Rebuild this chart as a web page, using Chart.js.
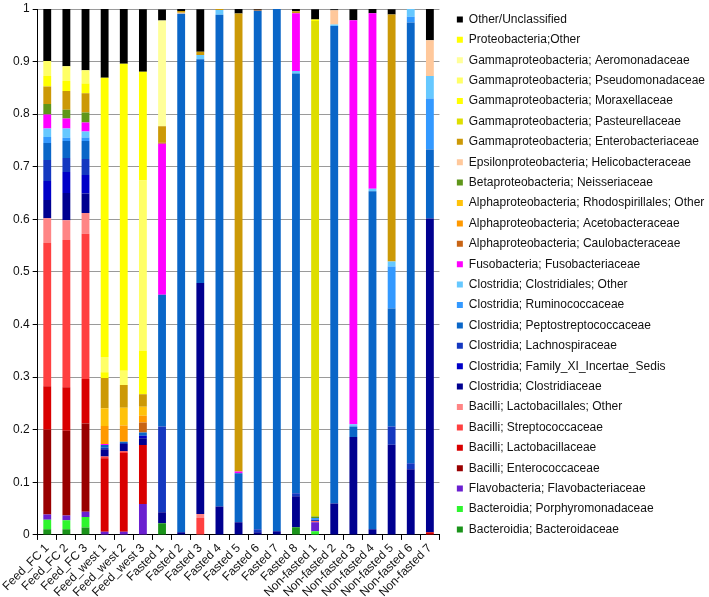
<!DOCTYPE html>
<html>
<head>
<meta charset="utf-8">
<script src="https://cdn.jsdelivr.net/npm/chart.js@4.4.0/dist/chart.umd.min.js"></script>
<style>
  html, body { margin: 0; padding: 0; background: #fff; }
  #wrap { width: 709px; height: 597px; position: relative; }
</style>
</head>
<body>
<div id="wrap"><canvas id="taxaChart"></canvas></div>
<script>
// samples (x axis)
const categories = [
  'Feed_FC 1', 'Feed_FC 2', 'Feed_FC 3', 'Feed_west 1', 'Feed_west 2', 'Feed_west 3',
  'Fasted 1', 'Fasted 2', 'Fasted 3', 'Fasted 4', 'Fasted 5', 'Fasted 6', 'Fasted 7', 'Fasted 8',
  'Non-fasted 1', 'Non-fasted 2', 'Non-fasted 3', 'Non-fasted 4', 'Non-fasted 5', 'Non-fasted 6', 'Non-fasted 7'
];
const yTickLabels = ['0', '0.1', '0.2', '0.3', '0.4', '0.5', '0.6', '0.7', '0.8', '0.9', '1'];

// relative abundance per sample, bottom of the stack first
//                        FC1     FC2     FC3     W1      W2      W3      F1      F2     F3      F4     F5      F6      F7     F8      NF1    NF2     NF3    NF4     NF5     NF6     NF7
const bacteroidaceae     = [0.011, 0.011, 0.014, 0, 0, 0, 0.022, 0, 0, 0, 0, 0, 0, 0.0146, 0, 0, 0, 0, 0, 0, 0];
const porphyromonadaceae = [0.018, 0.017, 0.020, 0, 0, 0, 0, 0, 0, 0, 0, 0, 0, 0, 0.007, 0, 0, 0, 0, 0, 0];
const flavobacteriaceae  = [0.010, 0.009, 0.010, 0.006, 0.006, 0.059, 0, 0, 0, 0, 0, 0, 0, 0, 0.017, 0, 0, 0, 0, 0, 0];
const enterococcaceae    = [0.161, 0.161, 0.168, 0, 0, 0, 0, 0, 0, 0, 0, 0, 0, 0, 0, 0, 0, 0, 0, 0, 0];
const lactobacillaceae   = [0.0825, 0.0826, 0.0845, 0.140, 0.150, 0.112, 0, 0, 0, 0, 0, 0, 0, 0, 0, 0, 0, 0, 0, 0, 0.005];
const streptococcaceae   = [0.2725, 0.280, 0.276, 0.003, 0.003, 0, 0, 0, 0.032, 0, 0, 0, 0, 0, 0.002, 0, 0, 0, 0, 0, 0];
const lactobacillalesOther = [0.047, 0.0375, 0.0394, 0, 0, 0, 0, 0, 0.008, 0, 0, 0, 0, 0, 0, 0, 0, 0, 0, 0, 0];
const clostridiaceae     = [0.035, 0.052, 0.0375, 0.014, 0.014, 0.0127, 0.021, 0.005, 0.439, 0.054, 0.024, 0.005, 0.007, 0.059, 0, 0.0597, 0.186, 0.011, 0.1714, 0.125, 0.5966];
const familyXI           = [0.036, 0.040, 0.035, 0, 0, 0.005, 0, 0, 0, 0, 0, 0, 0, 0, 0, 0, 0, 0, 0, 0, 0];
const lachnospiraceae    = [0.040, 0.0267, 0.0305, 0.003, 0.002, 0, 0.163, 0, 0, 0, 0, 0.006, 0, 0.0057, 0.003, 0, 0, 0, 0.035, 0.0115, 0];
const peptostreptococcaceae = [0.032, 0.032, 0.0343, 0.005, 0.002, 0.006, 0.2506, 0.986, 0.4255, 0.935, 0.0935, 0.9856, 0.993, 0.798, 0, 0.908, 0.020, 0.6427, 0.224, 0.838, 0.1314];
const ruminococcaceae    = [0.0115, 0.0064, 0.0064, 0, 0, 0, 0, 0, 0, 0, 0, 0, 0, 0, 0.003, 0, 0, 0, 0.080, 0.0107, 0.097];
const clostridialesOther = [0.0165, 0.0176, 0.0113, 0, 0, 0, 0, 0, 0.008, 0.009, 0, 0, 0, 0.005, 0, 0.003, 0.0045, 0.0045, 0.0096, 0.015, 0.0426];
const fusobacteriaceae   = [0.0266, 0.019, 0.0172, 0.002, 0, 0, 0.287, 0, 0, 0, 0.003, 0, 0, 0.1095, 0, 0, 0.768, 0.3335, 0, 0, 0];
const caulobacteraceae   = [0, 0, 0, 0, 0, 0.019, 0.002, 0, 0, 0, 0, 0.002, 0, 0, 0, 0, 0, 0, 0, 0, 0];
const acetobacteraceae   = [0, 0, 0, 0.034, 0.031, 0.013, 0, 0, 0, 0, 0, 0, 0, 0, 0, 0, 0, 0, 0, 0, 0];
const rhodospirillalesOther = [0, 0, 0, 0.034, 0.034, 0.017, 0, 0, 0, 0, 0, 0, 0, 0, 0, 0, 0, 0, 0, 0, 0];
const neisseriaceae      = [0.020, 0.0166, 0.019, 0, 0, 0, 0, 0, 0, 0, 0, 0, 0, 0, 0.003, 0, 0, 0, 0, 0, 0];
const helicobacteraceae  = [0, 0, 0, 0, 0, 0, 0, 0.002, 0, 0, 0, 0, 0, 0, 0, 0.027, 0, 0, 0, 0, 0.068];
const enterobacteriaceae = [0.033, 0.0356, 0.0367, 0.0572, 0.043, 0.024, 0.0315, 0.003, 0.006, 0.002, 0.871, 0, 0, 0.004, 0, 0, 0, 0, 0.4697, 0, 0];
const pasteurellaceae    = [0, 0, 0, 0, 0, 0, 0, 0, 0, 0, 0, 0, 0, 0, 0.942, 0, 0, 0, 0, 0, 0];
const moraxellaceae      = [0.020, 0.019, 0.0185, 0.011, 0, 0.082, 0, 0, 0, 0, 0, 0, 0, 0, 0.003, 0, 0, 0, 0, 0, 0];
const pseudomonadaceae   = [0.0285, 0.028, 0.0254, 0.029, 0.027, 0.324, 0, 0, 0, 0, 0, 0, 0, 0, 0, 0, 0, 0, 0, 0, 0];
const aeromonadaceae     = [0, 0, 0, 0, 0, 0, 0.201, 0, 0, 0, 0, 0, 0, 0, 0, 0, 0, 0, 0, 0, 0];
const proteobacteriaOther = [0, 0, 0, 0.531, 0.584, 0.207, 0, 0, 0, 0, 0, 0, 0, 0, 0, 0, 0, 0, 0, 0, 0];
const otherUnclassified  = [0.0987, 0.1088, 0.1164, 0.131, 0.105, 0.119, 0.021, 0.004, 0.081, 0, 0.0085, 0.0014, 0, 0.0045, 0.0195, 0.002, 0.0212, 0.0085, 0.010, 0, 0.0593];

const series = [
  ['Bacteroidia; Bacteroidaceae', bacteroidaceae, '#1a931a'],
  ['Bacteroidia; Porphyromonadaceae', porphyromonadaceae, '#2ef52e'],
  ['Flavobacteria; Flavobacteriaceae', flavobacteriaceae, '#6a1fd0'],
  ['Bacilli; Enterococcaceae', enterococcaceae, '#990000'],
  ['Bacilli; Lactobacillaceae', lactobacillaceae, '#d90000'],
  ['Bacilli; Streptococcaceae', streptococcaceae, '#ff4040'],
  ['Bacilli; Lactobacillales; Other', lactobacillalesOther, '#ff8585'],
  ['Clostridia; Clostridiaceae', clostridiaceae, '#000090'],
  ['Clostridia; Family_XI_Incertae_Sedis', familyXI, '#0000c8'],
  ['Clostridia; Lachnospiraceae', lachnospiraceae, '#1438c0'],
  ['Clostridia; Peptostreptococcaceae', peptostreptococcaceae, '#0a66c8'],
  ['Clostridia; Ruminococcaceae', ruminococcaceae, '#3399ff'],
  ['Clostridia; Clostridiales; Other', clostridialesOther, '#66c8ff'],
  ['Fusobacteria; Fusobacteriaceae', fusobacteriaceae, '#ff00ff'],
  ['Alphaproteobacteria; Caulobacteraceae', caulobacteraceae, '#c86414'],
  ['Alphaproteobacteria; Acetobacteraceae', acetobacteraceae, '#ff9900'],
  ['Alphaproteobacteria; Rhodospirillales; Other', rhodospirillalesOther, '#ffc20a'],
  ['Betaproteobacteria; Neisseriaceae', neisseriaceae, '#5f961a'],
  ['Epsilonproteobacteria; Helicobacteraceae', helicobacteraceae, '#ffc89b'],
  ['Gammaproteobacteria; Enterobacteriaceae', enterobacteriaceae, '#cc9906'],
  ['Gammaproteobacteria; Pasteurellaceae', pasteurellaceae, '#dede00'],
  ['Gammaproteobacteria; Moraxellaceae', moraxellaceae, '#ffff00'],
  ['Gammaproteobacteria; Pseudomonadaceae', pseudomonadaceae, '#ffff66'],
  ['Gammaproteobacteria; Aeromonadaceae', aeromonadaceae, '#ffff99'],
  ['Proteobacteria;Other', proteobacteriaOther, '#ffff00'],
  ['Other/Unclassified', otherUnclassified, '#000000']
];

// nudge the legend sideways / down after layout
const legendShift = {
  id: 'legendShift',
  afterLayout(chart) {
    const lg = chart.legend;
    if (!lg) return;
    lg.left += 9; lg.right += 9;
    lg.top += 3; lg.bottom += 3;
  }
};

Chart.defaults.font.family = "'Liberation Sans', Arial, sans-serif";
Chart.defaults.font.size = 12;
Chart.defaults.color = '#000';

const ctx = document.getElementById('taxaChart').getContext('2d');
const taxaChart = new Chart(ctx, {
  type: 'bar',
  data: {
    labels: categories,
    datasets: series.map(s => ({
      label: s[0],
      data: s[1],
      backgroundColor: s[2],
      borderColor: s[2],
      borderWidth: 0,
      barPercentage: 0.41,
      categoryPercentage: 1
    }))
  },
  options: {
    responsive: true,
    maintainAspectRatio: false,
    animation: false,
    layout: { padding: { left: 10, top: 2, right: 3, bottom: -4 } },
    plugins: {
      tooltip: { enabled: false },
      legend: {
        position: 'right',
        align: 'start',
        reverse: true,
        maxWidth: 300,
        labels: { boxWidth: 6, boxHeight: 6, padding: 8.4, color: '#111' }
      }
    },
    scales: {
      x: {
        stacked: true,
        grid: { display: true, drawOnChartArea: false, drawTicks: true, tickLength: 5, color: '#000', offset: true },
        border: { display: true, color: '#000', width: 1 },
        ticks: { autoSkip: false, maxRotation: 45, minRotation: 45, padding: 2, font: { lineHeight: 1 }, color: '#111' }
      },
      y: {
        stacked: true,
        min: 0,
        max: 1,
        grid: { color: '#9a9a9a', tickColor: '#000', tickLength: 5 },
        border: { display: true, color: '#000', width: 1 },
        ticks: {
          stepSize: 0.1,
          padding: 3,
          color: '#111',
          font: { lineHeight: 1 },
          callback: (v, i) => yTickLabels[i]
        }
      }
    }
  },
  plugins: [legendShift]
});
</script>
</body>
</html>
